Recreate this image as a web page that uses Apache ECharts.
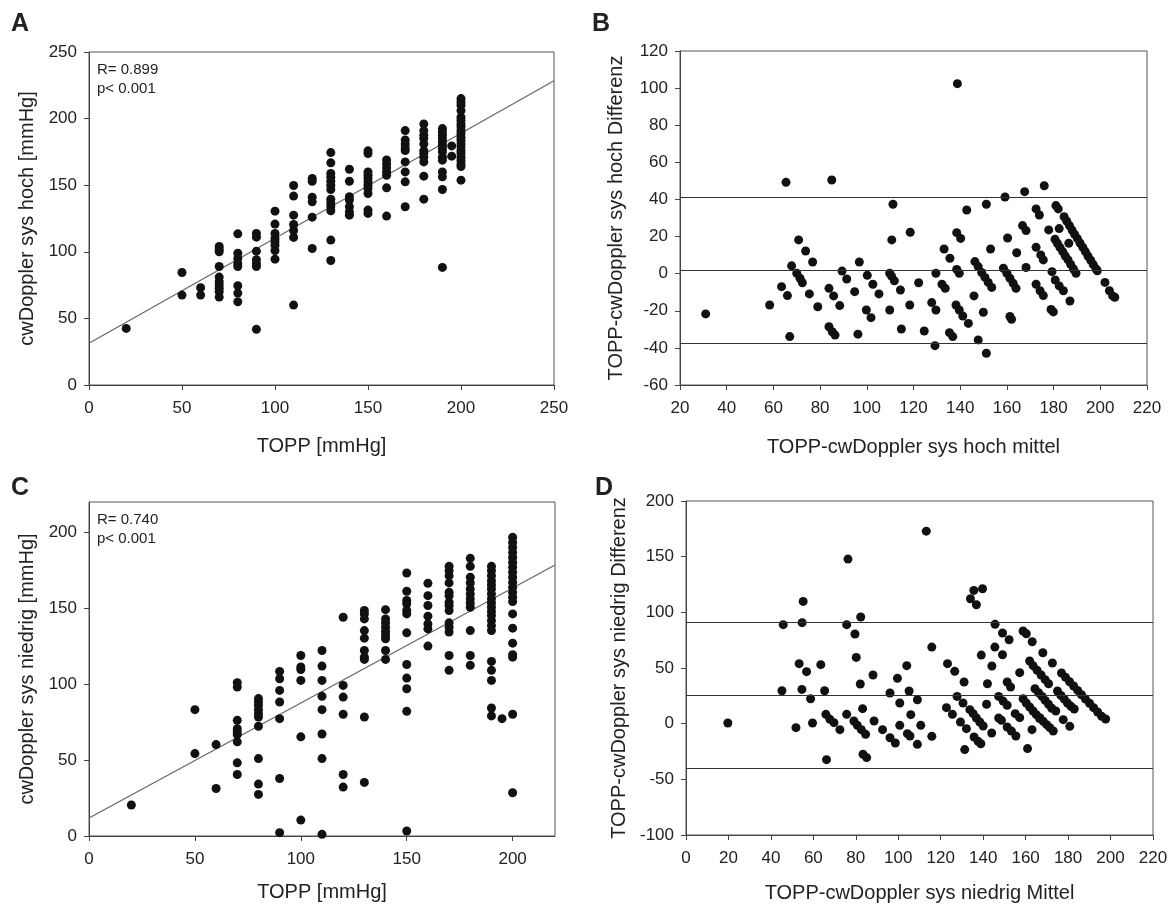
<!DOCTYPE html>
<html>
<head>
<meta charset="utf-8">
<script src="https://cdn.jsdelivr.net/npm/echarts@6/dist/echarts.min.js"></script>
<style>
  html, body { margin: 0; padding: 0; background: #ffffff; }
  #chart { width: 1172px; height: 908px; }
</style>
</head>
<body>
<div id="chart"></div>
<script>
// ---- A: TOPP vs cwDoppler sys hoch, grouped by TOPP value ----
const hochByTopp = [
  [20, [42.5]],
  [50, [84.5, 67.5]],
  [60, [73, 67.5]],
  [70, [104, 102, 100, 89, 81, 77.5, 75, 72.5, 70, 66]],
  [80, [113.5, 99, 95, 91, 89, 74.5, 69, 62.5]],
  [90, [113.8, 111, 100.5, 94, 91, 89, 41.8]],
  [100, [130.5, 120.8, 113.8, 110, 107.5, 105, 101, 94.5]],
  [110, [149.8, 141.8, 127.5, 120.5, 116, 110.8, 60]],
  [120, [155, 153, 141, 137.5, 126, 102.5]],
  [130, [174.5, 166.8, 158.8, 156, 153, 150, 146.8, 139.5, 136.8, 134, 130.8, 108.8, 93.5]],
  [140, [162, 153, 141.3, 138.8, 133.8, 130, 127.5]],
  [150, [175.8, 173.8, 160, 157.5, 155, 152.5, 150, 147.5, 143.8, 131.3, 128.8]],
  [160, [169, 166, 163, 160, 157.5, 148, 126.8]],
  [170, [191, 184, 181, 178, 176, 167.5, 160, 152.5, 133.8]],
  [180, [196, 191, 187.5, 185, 181, 176, 173.8, 171, 167.5, 156.8, 139.5]],
  [190, [192.5, 190, 187.5, 185, 182.5, 180, 177.5, 175, 171, 168.8, 160, 156.3, 146.8, 88.3]],
  [195, [179.5, 171.8]],
  [200, [215, 212.5, 210, 206, 201, 198.8, 196, 193.8, 191, 188.8, 186, 183.8, 181, 178.8, 176, 173.8, 171, 168.8, 166, 164, 153.8]]
];
const hochRegression = [[0, 31.3], [250, 228.4]];
const hochStats = ['R= 0.899', 'p< 0.001'];

// ---- B: Bland-Altman hoch (mean, difference) ----
const hochBA = [
  [31.0,-21.7],[65.4,49.2],[85.0,50.5],[111.2,37.4],[118.6,22.3],[110.7,18.2],[70.8,18.2],[73.8,12.2],
  [76.8,6.3],[67.8,4.2],[70.0,0.2],[71.4,-2.5],[72.4,-4.9],[63.5,-7.0],[66.0,-11.8],[58.4,-16.9],
  [67.0,-33.9],[75.4,-10.9],[79.0,-17.8],[83.8,-7.9],[85.8,-12.0],[88.4,-17.2],[83.8,-28.6],[85.2,-31.3],
  [86.4,-33.1],[89.4,1.4],[91.4,-2.9],[96.8,6.3],[94.8,-9.7],[96.2,-32.6],[100.2,-0.9],[102.6,-5.7],
  [105.2,-10.9],[99.8,-19.6],[101.8,-23.7],[109.8,0.2],[110.6,-1.3],[111.8,-3.8],[114.4,-8.8],[118.4,-16.9],
  [109.8,-19.6],[114.8,-29.8],[122.2,-4.9],[124.6,-30.9],
  [138.8,102.4],[176.0,47.4],[167.6,44.2],[159.2,41.3],[151.2,37.4],[142.8,34.3],[129.6,0.2],[133.1,13.3],
  [135.6,8.3],[138.5,22.1],[140.2,19.0],[138.5,2.3],[139.6,0.2],[132.2,-5.7],[133.6,-7.9],[127.8,-15.6],
  [129.6,-19.6],[129.2,-38.8],[135.4,-31.8],[136.8,-33.9],[138.2,-16.9],[139.6,-19.6],[141.1,-22.8],[143.5,-26.8],
  [145.9,-12.0],[149.9,-20.8],[147.7,-35.7],[151.2,-42.9],[153.0,13.3],
  [146.3,6.5],[147.7,3.8],[149.2,0.6],[150.6,-2.0],[152.0,-4.7],[153.5,-7.4],
  [160.3,19.2],[164.2,11.3],[158.5,2.9],[160.0,0.2],[161.3,-2.5],[162.7,-5.2],[163.9,-7.9],
  [161.3,-23.1],[162.0,-24.6],[166.7,25.9],[168.2,23.2],[168.2,3.3],[172.5,34.9],[173.9,31.6],[172.5,14.2],
  [174.5,10.1],[175.6,7.4],[172.5,-5.7],[174.2,-9.2],[175.6,-11.8],[178.9,-19.3],[179.9,-20.6],[177.9,23.6],
  [182.4,24.3],[179.3,1.1],[180.7,-3.4],[182.4,-6.6],[184.2,-9.2],[187.0,-14.7],[186.5,16.4],[181.0,36.7],
  [182.0,34.9],
  [180.6,18.5],[181.6,16.4],[182.7,14.2],[183.9,11.9],[185.0,9.5],[186.2,7.4],[187.3,5.0],[188.5,2.5],[189.6,0.2],
  [184.5,30.7],[185.6,28.4],[186.8,25.9],[187.9,23.5],[189.0,21.2],[190.2,18.9],[191.3,16.5],[192.5,14.2],
  [193.6,11.9],[194.7,9.5],[195.9,7.2],[197.0,4.9],[198.2,2.5],[198.7,1.6],
  [202.0,-4.7],[203.9,-9.2],[205.3,-12.0],[206.2,-12.7]
];
const hochLimits = [41.1, 1.6, -37.5];   // upper limit, mean, lower limit

// ---- C: TOPP vs cwDoppler sys niedrig, grouped by TOPP value ----
const niedrigByTopp = [
  [20, [20.4]],
  [50, [83.2, 54.3]],
  [60, [60.2, 31.3]],
  [70, [101, 98.1, 76.2, 70.7, 68.6, 66.8, 62, 48.2, 40.5]],
  [80, [90.5, 88.3, 86.1, 83.2, 80.6, 78.4, 72.3, 51, 34.2, 27.4]],
  [90, [108.4, 103.6, 95.9, 88.3, 77.3, 37.9, 2.2]],
  [100, [118.9, 111.3, 109.7, 102.5, 65.3, 10.5]],
  [110, [122.2, 111.9, 102.5, 92, 83.2, 67.2, 51, 1.1]],
  [120, [144.1, 99.2, 91.5, 80.2, 40.5, 32.2]],
  [130, [148.5, 146.3, 143, 135.3, 130.3, 122.2, 117.8, 116.3, 78.4, 35.3]],
  [140, [149.1, 143, 140.4, 137.5, 134.7, 132.1, 129.9, 122.2, 116.3]],
  [150, [173.2, 161.2, 155.1, 152.9, 148.5, 146.3, 133.8, 113, 104, 97, 82.1, 3.3]],
  [160, [166.4, 158.3, 151.8, 144.8, 139.7, 136.4, 125.1]],
  [170, [177.6, 174.8, 171.5, 166.7, 160.5, 158.3, 154, 151.8, 148.5, 140.4, 137.5, 134.3, 118.9, 109.1]],
  [180, [182.9, 177.6, 170.4, 166.7, 162.7, 159.4, 156.2, 153.5, 150.7, 135.3, 118.9, 112.4]],
  [190, [177.6, 174.8, 171.5, 168.2, 165.4, 162.7, 159.4, 156.2, 153.5, 150.7, 147.8, 145.2, 141.9, 138.6, 135.3, 115, 109.1, 102.5, 84.3, 79.1]],
  [195, [77.3]],
  [200, [196.7, 193.4, 190.1, 186.8, 183.5, 180.2, 177, 173.7, 170.4, 167.1, 163.8, 160.5, 157.3, 154.4, 146.3, 136.9, 127, 119.4, 117.8, 80.2, 28.5]]
];
const niedrigRegression = [[0, 11.8], [220, 178.5]];
const niedrigStats = ['R= 0.740', 'p< 0.001'];

// ---- D: Bland-Altman niedrig (mean, difference) ----
const niedrigBA = [
  [19.7,0.6],[76.3,147.8],[55.2,109.8],[45.8,88.9],[54.7,90.7],[75.7,88.9],[82.3,95.8],[79.6,80.5],
  [80.2,59.5],[53.3,53.9],[56.8,46.7],[63.5,53.0],[88.1,43.7],[82.1,35.6],[99.6,40.7],[104.0,52.1],
  [45.2,29.6],[54.6,30.8],[65.3,29.6],[58.7,22.4],[51.8,-3.6],[59.6,0.6],[65.9,8.4],[67.8,3.9],
  [69.7,0.9],[72.5,-5.4],[66.2,-32.3],[75.7,8.4],[79.1,2.4],[80.7,-1.5],[82.6,-5.4],[84.6,-9.6],
  [83.2,13.5],[83.4,-27.5],[85.1,-30.5],[88.6,2.4],[92.6,-5.4],[96.1,27.5],[96.1,-12.6],[98.6,-17.4],
  [100.7,18.6],[100.7,-1.5],[105.1,29.3],[105.9,8.1],[104.3,-9.0],[105.5,-11.1],[109.0,21.5],[109.0,-18.6],
  [110.6,-1.5],[113.2,172.9],
  [115.8,68.8],[115.8,-11.4],[123.2,53.9],[126.6,47.0],[131.0,37.4],[127.7,24.5],[130.5,18.6],[122.7,14.4],
  [125.5,8.4],[129.3,1.5],[132.1,-4.5],[131.3,-23.3],[133.7,12.6],[135.3,9.0],[136.8,5.1],[138.4,1.5],
  [140.0,-2.1],[135.7,-12.0],[137.6,-15.9],[138.9,-18.0],[134.0,112.2],[135.6,119.7],[136.8,106.8],[139.7,121.2],
  [139.1,61.6],[141.6,17.4],[144.0,-8.4],[144.1,51.8],[145.5,68.8],[145.6,89.2],[149.1,81.4],[152.2,75.4],
  [149.1,61.9],[142.0,35.9],[147.3,5.1],[148.6,3.0],[147.3,24.5],[149.4,20.3],[151.3,16.5],[151.3,37.4],
  [152.9,32.9],[151.3,-3.0],[153.3,-6.6],[155.4,-11.1],[155.1,9.0],[157.2,5.4],[157.2,45.8],[158.8,83.2],
  [160.3,80.8],[163.1,73.6],[160.9,-22.4],[163.0,-5.4],[158.8,22.4],[160.3,18.6],[161.9,15.0],[163.5,11.4],
  [165.0,8.1],[166.6,4.5],[168.1,63.7],[172.6,54.5],[161.9,56.3],[163.5,52.1],[165.4,47.9],[167.3,43.7],
  [169.2,39.5],[170.8,35.9],[164.4,31.4],[166.1,27.8],[167.7,24.5],[169.2,20.9],[170.8,17.4],[172.3,13.8],
  [174.2,11.4],[166.7,5.4],[168.3,2.1],[169.9,-0.9],[171.4,-3.6],[173.0,-6.6],[175.0,29.3],[176.6,25.4],
  [178.2,22.1],[179.7,18.6],[181.3,15.6],[182.9,13.2],[177.7,3.6],[180.8,-2.4],
  [176.9,45.5],[178.8,41.6],[180.7,37.7],[182.6,33.8],[184.5,29.9],[186.3,26.0],[188.2,22.1],[190.1,18.3],
  [192.0,14.4],[193.9,10.5],[195.8,6.6],[197.7,4.2]
];
const niedrigLimits = [91, 25.7, -40];

// ---- axis titles and panel letters ----
const panelLetters = ['A', 'B', 'C', 'D'];
const xTitles = ['TOPP [mmHg]', 'TOPP-cwDoppler sys hoch mittel', 'TOPP [mmHg]', 'TOPP-cwDoppler sys niedrig Mittel'];
const yTitles = ['cwDoppler sys hoch [mmHg]', 'TOPP-cwDoppler sys hoch Differenz', 'cwDoppler sys niedrig [mmHg]', 'TOPP-cwDoppler sys niedrig Differenz'];

// ---------------------------------------------------------------
const FONT = "'Liberation Sans', Arial, Helvetica, sans-serif";
const INK = '#222';
const AXIS = '#444';

function flatten(groups) {
  const out = [];
  groups.forEach(([x, ys]) => ys.forEach(y => out.push([x, y])));
  return out;
}

function makeAxis(dim, gridIndex, min, max, interval, name, nameGap, hideMax) {
  return {
    type: 'value',
    gridIndex, min, max, interval,
    name, nameLocation: 'middle', nameGap,
    nameTextStyle: { fontFamily: FONT, fontSize: 20, color: INK },
    axisLine: { show: true, onZero: false, lineStyle: { color: AXIS, width: 1 } },
    axisTick: { show: true, inside: false, length: 5, lineStyle: { color: AXIS, width: 1 } },
    axisLabel: {
      fontFamily: FONT, fontSize: 17, color: INK, margin: dim === 'x' ? 15 : 12,
      showMaxLabel: !hideMax
    },
    splitLine: { show: false }
  };
}

const grids = [
  { left: 89, top: 52, width: 465, height: 333 },
  { left: 680, top: 51, width: 467, height: 334 },
  { left: 89, top: 502, width: 466, height: 334 },
  { left: 686, top: 501, width: 467, height: 334 }
].map(g => Object.assign(g, { show: true, borderColor: '#555', borderWidth: 1, backgroundColor: 'transparent' }));

const xAxes = [
  makeAxis('x', 0, 0, 250, 50, xTitles[0], 51, false),
  makeAxis('x', 1, 20, 220, 20, xTitles[1], 52, false),
  makeAxis('x', 2, 0, 220, 50, xTitles[2], 46, true),
  makeAxis('x', 3, 0, 220, 20, xTitles[3], 48, false)
];
const yAxes = [
  makeAxis('y', 0, 0, 250, 50, yTitles[0], 52, false),
  makeAxis('y', 1, -60, 120, 20, yTitles[1], 54, false),
  makeAxis('y', 2, 0, 220, 50, yTitles[2], 52, true),
  makeAxis('y', 3, -100, 200, 50, yTitles[3], 57, false)
];

const dot = { symbol: 'circle', symbolSize: 9, itemStyle: { color: '#111', opacity: 1 }, silent: true };

function scatter(i, data, limits) {
  const s = Object.assign({ type: 'scatter', xAxisIndex: i, yAxisIndex: i, data }, dot);
  if (limits) {
    s.markLine = {
      silent: true, symbol: 'none', animation: false,
      label: { show: false },
      lineStyle: { color: '#333', width: 1, type: 'solid' },
      data: limits.map(v => ({ yAxis: v }))
    };
  }
  return s;
}

function regression(i, data) {
  return {
    type: 'line', xAxisIndex: i, yAxisIndex: i, data,
    symbol: 'none', silent: true, z: 1,
    lineStyle: { color: '#666', width: 1.2 }
  };
}

const letterPos = [[11, 12], [592, 12], [11, 476], [595, 476]];
const titles = panelLetters.map((t, i) => ({
  text: t, left: letterPos[i][0], top: letterPos[i][1], padding: 0,
  textStyle: { fontFamily: FONT, fontSize: 25, fontWeight: 'bold', color: INK }
}));
titles.push({
  text: hochStats.join('\n'), left: 97, top: 60, padding: 0,
  textStyle: { fontFamily: FONT, fontSize: 15, fontWeight: 'normal', color: INK, lineHeight: 19 }
});
titles.push({
  text: niedrigStats.join('\n'), left: 97, top: 510, padding: 0,
  textStyle: { fontFamily: FONT, fontSize: 15, fontWeight: 'normal', color: INK, lineHeight: 19 }
});

const chart = echarts.init(document.getElementById('chart'), null, { renderer: 'canvas' });
chart.setOption({
  animation: false,
  backgroundColor: '#ffffff',
  title: titles,
  grid: grids,
  xAxis: xAxes,
  yAxis: yAxes,
  series: [
    regression(0, hochRegression),
    scatter(0, flatten(hochByTopp)),
    scatter(1, hochBA, hochLimits),
    regression(2, niedrigRegression),
    scatter(2, flatten(niedrigByTopp)),
    scatter(3, niedrigBA, niedrigLimits)
  ]
});
</script>
</body>
</html>
